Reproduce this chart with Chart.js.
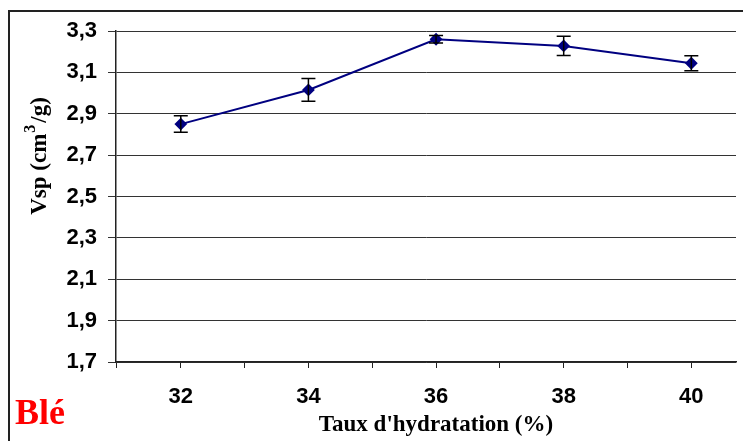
<!DOCTYPE html>
<html>
<head>
<meta charset="utf-8">
<script src="https://cdn.jsdelivr.net/npm/chart.js@4"></script>
<style>
  html, body { margin: 0; padding: 0; background: #fff; overflow: hidden; }
  #wrap { position: relative; width: 743px; height: 441px; overflow: hidden; }
  #frame { position: absolute; left: 8px; top: 10px; width: 800px; height: 500px; border: 2px solid #222; }
  #c { position: absolute; left: 0; top: 0; }
</style>
</head>
<body>
<div id="wrap">
  <div id="frame"></div>
  <canvas id="c" width="743" height="441"></canvas>
</div>
<script>
// Taux d'hydratation (%) vs Vsp
const hydration = [32, 34, 36, 38, 40];
const vsp = [2.85, 3.015, 3.26, 3.228, 3.144];
const vspErr = [0.04, 0.055, 0.018, 0.047, 0.036];
const yTicks = [1.7, 1.9, 2.1, 2.3, 2.5, 2.7, 2.9, 3.1, 3.3];

const serif = '"Liberation Serif", "Times New Roman", serif';

const errorBars = {
    id: 'errorBars',
    afterDatasetsDraw(chart) {
        const ctx = chart.ctx;
        const xs = chart.scales.x, ys = chart.scales.y;
        ctx.save();
        ctx.strokeStyle = '#000';
        ctx.lineWidth = 1.5;
        hydration.forEach((h, i) => {
            const x = xs.getPixelForValue(h);
            const top = ys.getPixelForValue(vsp[i] + vspErr[i]);
            const bot = ys.getPixelForValue(vsp[i] - vspErr[i]);
            ctx.beginPath();
            ctx.moveTo(x, top); ctx.lineTo(x, bot);
            ctx.moveTo(x - 7, top); ctx.lineTo(x + 7, top);
            ctx.moveTo(x - 7, bot); ctx.lineTo(x + 7, bot);
            ctx.stroke();
        });
        ctx.restore();
    }
};

// axis titles and the "Blé" tag
const labels = {
    id: 'labels',
    afterDraw(chart) {
        const ctx = chart.ctx;
        ctx.save();
        ctx.fillStyle = '#000';
        ctx.textBaseline = 'alphabetic';

        ctx.font = 'bold 23px ' + serif;
        ctx.textAlign = 'center';
        ctx.fillText("Taux d'hydratation (%)", 436, 431);

        // y title, rotated, with raised 3
        ctx.translate(46, 156);
        ctx.rotate(-Math.PI / 2);
        const a = 'Vsp (cm', b = '3', c = '/g)';
        ctx.font = 'bold 23px ' + serif;
        const wa = ctx.measureText(a).width, wc = ctx.measureText(c).width;
        ctx.font = 'bold 16px ' + serif;
        const wb = ctx.measureText(b).width + 3;
        let x = -(wa + wb + wc) / 2;
        ctx.textAlign = 'left';
        ctx.font = 'bold 23px ' + serif;
        ctx.fillText(a, x, 0);
        ctx.font = 'bold 16px ' + serif;
        ctx.fillText(b, x + wa + 1, -11);
        ctx.font = 'bold 23px ' + serif;
        ctx.fillText(c, x + wa + wb, 0);
        ctx.restore();

        ctx.save();
        ctx.fillStyle = '#ff0000';
        ctx.font = 'bold 36px ' + serif;
        ctx.textAlign = 'left';
        ctx.fillText('Blé', 15, 424);
        ctx.restore();
    }
};

new Chart(document.getElementById('c'), {
    type: 'scatter',
    data: {
        datasets: [{
            data: hydration.map((h, i) => ({ x: h, y: vsp[i] })),
            showLine: true,
            borderColor: '#000080',
            backgroundColor: '#000080',
            borderWidth: 2,
            pointStyle: 'rectRot',
            pointRadius: 5,
            pointHoverRadius: 5
        }]
    },
    options: {
        responsive: false,
        animation: false,
        devicePixelRatio: 1,
        layout: { padding: { top: 31, right: 0, left: 0, bottom: 0 } },
        plugins: { legend: { display: false }, tooltip: { enabled: false } },
        scales: {
            x: {
                type: 'linear',
                min: 30.985,
                max: 40.7,
                afterFit: s => { s.height = 79; },
                afterBuildTicks: s => {
                    s.ticks = [31, 32, 33, 34, 35, 36, 37, 38, 39, 40].map(v => ({ value: v }));
                },
                ticks: {
                    padding: 16,
                    color: '#000',
                    font: { family: 'Liberation Sans', weight: 'bold', size: 22 },
                    callback: v => (hydration.includes(v) ? v : '')
                },
                grid: { drawOnChartArea: false, color: '#222', tickLength: 6 },
                border: { color: '#222', width: 1.5 }
            },
            y: {
                min: 1.7,
                max: 3.3,
                afterFit: s => { s.width = 116; },
                afterBuildTicks: s => { s.ticks = yTicks.map(v => ({ value: v })); },
                ticks: {
                    padding: 11,
                    color: '#000',
                    font: { family: 'Liberation Sans', weight: 'bold', size: 22 },
                    callback: v => v.toFixed(1).replace('.', ',')
                },
                grid: { color: '#333', tickLength: 8 },
                border: { color: '#222', width: 1.5 }
            }
        }
    },
    plugins: [errorBars, labels]
});
</script>
</body>
</html>
